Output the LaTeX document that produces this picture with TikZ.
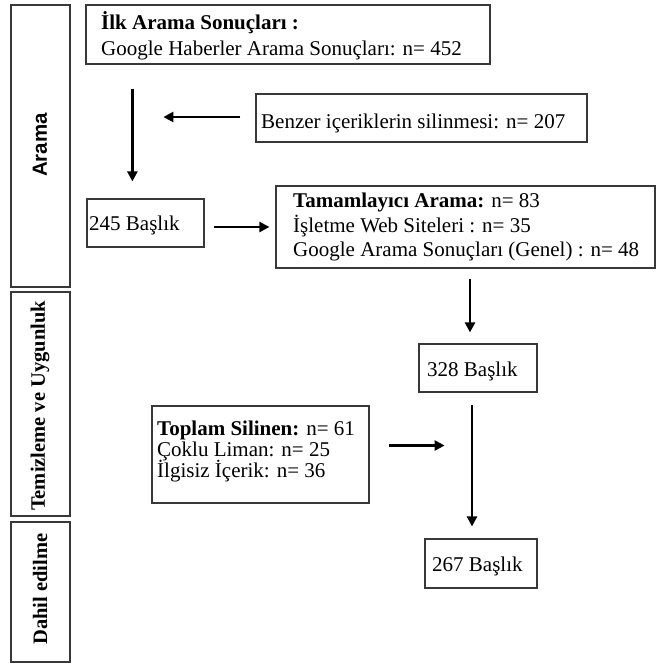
\documentclass[tikz,border=0pt]{standalone}
\usepackage{fontspec}
\setmainfont{Liberation Serif}
\newfontfamily\sansb{Liberation Sans}
\usetikzlibrary{arrows.meta,calc}
\begin{document}
\begin{tikzpicture}[x=1pt,y=-1pt,
  box/.style={draw=black!78, line width=1.2pt, inner sep=0pt},
  txt/.style={anchor=base west, inner sep=0pt, font=\fontsize{21}{25}\selectfont},
  side/.style={rotate=90, inner sep=0pt, font=\fontsize{20.5}{24}\selectfont\bfseries},
  arr/.style={line width=2.4pt, -{Triangle[length=10pt,width=10pt]}}]
\useasboundingbox (0,0) rectangle (656,664);

% side boxes
\node[box, minimum width=59pt, minimum height=282pt] (side1) at (40.5,146) {};
\node[box, minimum width=59pt, minimum height=224pt] (side2) at (40.5,404) {};
\node[box, minimum width=59pt, minimum height=140pt] (side3) at (40.5,592) {};
\node[side, font=\fontsize{20.5}{24}\sansb\bfseries] (l1) at (40,145) {Arama};
\node[side] (l2) at (40,406) {Temizleme ve Uygunluk};
\node[side] (l3) at (40,589) {Dahil edilme};

% boxes
\node[box, minimum width=404pt, minimum height=59pt] (top) at (288,34.5) {};
\node[box, minimum width=331pt, minimum height=48pt] (benzer) at (421.5,118) {};
\node[box, minimum width=117pt, minimum height=48pt] (b245) at (145.5,223) {};
\node[box, minimum width=379pt, minimum height=82pt] (tam) at (465.5,227) {};
\node[box, minimum width=118pt, minimum height=48pt] (b328) at (478,368) {};
\node[box, minimum width=217pt, minimum height=97pt] (toplam) at (260.5,454.5) {};
\node[box, minimum width=112pt, minimum height=49pt] (b267) at (481,563.5) {};

% texts
\node[txt] (t1a) at (101,29) {\textbf{İlk Arama Sonuçları :}};
\node[txt] (t1b) at (101,55) {Google Haberler Arama Sonuçları: n= 452};
\node[txt] (t2) at (261,128) {Benzer içeriklerin silinmesi: n= 207};
\node[txt] (t3) at (89,230) {245 Başlık};
\node[txt] (t4a) at (293,207) {\textbf{Tamamlayıcı Arama:} n= 83};
\node[txt] (t4b) at (293,232) {İşletme Web Siteleri : n= 35};
\node[txt] (t4c) at (293,256) {Google Arama Sonuçları (Genel) : n= 48};
\node[txt] (t5) at (427,376) {328 Başlık};
\node[txt] (t6a) at (157,435) {\textbf{Toplam Silinen:} n= 61};
\node[txt] (t6b) at (157,456) {Çoklu Liman: n= 25};
\node[txt] (t6c) at (157,477) {İlgisiz İçerik: n= 36};
\node[txt] (t7) at (432,571) {267 Başlık};

% connectors
\draw[arr] ($(top.south west)+(47,24)$) -- ($(b245.north west)+(46,-17)$);
\draw[arr] ($(benzer.west)+(-15,-1)$) -- ($(benzer.west)+(-92,-1)$);
\draw[arr] ($(b245.east)+(9,4)$) -- ($(tam.west)+(-6,0)$);
\draw[arr] ($(tam.south)+(4.5,10)$) -- ($(b328.north)+(-8,-11)$);
\draw[arr] ($(toplam.east)+(19,-9)$) -- ($(toplam.east)+(75,-9)$);
\draw[arr] ($(b328.south)+(-6,12)$) -- ($(b267.north)+(-9,-12)$);
\end{tikzpicture}
\end{document}
